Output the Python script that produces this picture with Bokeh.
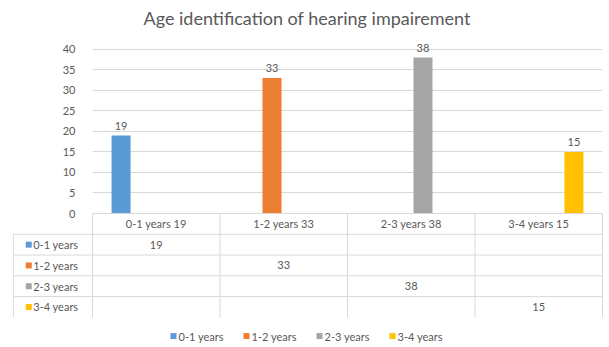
from bokeh.plotting import figure
from bokeh.models import Range1d, ColumnDataSource, FixedTicker, Title
from bokeh.transform import dodge
from bokeh.embed import file_html
from bokeh.resources import INLINE
from bokeh.core.properties import value

# ---- data -------------------------------------------------------------
title_text = "Age identification of hearing impairement"
categories = ["0-1 years 19", "1-2 years 33", "2-3 years 38", "3-4 years 15"]
series_names = ["0-1 years", "1-2 years", "2-3 years", "3-4 years"]
counts_0_1 = [19, None, None, None]
counts_1_2 = [None, 33, None, None]
counts_2_3 = [None, None, 38, None]
counts_3_4 = [None, None, None, 15]
y_ticks = [0, 5, 10, 15, 20, 25, 30, 35, 40]

series_values = [counts_0_1, counts_1_2, counts_2_3, counts_3_4]
colors = ["#5B9BD5", "#ED7D31", "#A5A5A5", "#FFC000"]

FONT = "Lato"
TEXT = "#595959"
LINE = "#D9D9D9"
FS = "11px"

n_cat = len(categories)
n_ser = len(series_names)
PX = 127.5        # pixels per category column
SLOT = 0.184      # distance between series slots inside one category (category = 1)
BAR_W = 0.149     # bar width in category units
KEY_PX = 6        # side of a colour key square, pixels

# ---- clustered column chart ------------------------------------------
# plot frame: x 92..602 (one unit per category), y 30..214 (0 at y=213, 40 at y=47)
p = figure(width=609, height=347, x_range=Range1d(0, n_cat),
           y_range=Range1d(-0.24, 44.1),
           output_backend="svg", toolbar_location=None, x_axis_location=None,
           min_border_left=92, min_border_right=7, min_border_top=30,
           min_border_bottom=133, background_fill_color="white",
           border_fill_color="white")
p.outline_line_color = None
p.add_layout(Title(text=title_text, align="left", offset=51, text_font_size="18px",
                   text_color=TEXT, text_font_style="normal", text_font=FONT,
                   standoff=8), "above")

for si, (name, vals, col) in enumerate(zip(series_names, series_values, colors)):
    xs = [ci + 0.5 for ci, v in enumerate(vals) if v is not None]
    tops = [v for v in vals if v is not None]
    src = ColumnDataSource(dict(x=xs, top=tops, label=[str(v) for v in tops]))
    shift = (si - (n_ser - 1) / 2) * SLOT
    p.vbar(x=dodge("x", shift, range=p.x_range), top="top", width=BAR_W,
           source=src, fill_color=col, line_color=None)
    p.text(x=dodge("x", shift, range=p.x_range), y="top", text="label", source=src,
           text_align="center", text_baseline="bottom", y_offset=-6,
           text_font=value(FONT), text_font_size=FS, text_color=TEXT)

p.yaxis.ticker = FixedTicker(ticks=y_ticks)
p.ygrid.ticker = FixedTicker(ticks=y_ticks)
p.ygrid.grid_line_color = LINE
p.xgrid.grid_line_color = None
p.yaxis.axis_line_color = None
p.yaxis.major_tick_line_color = None
p.yaxis.minor_tick_line_color = None
p.yaxis.major_label_standoff = 11
p.yaxis.major_label_text_color = TEXT
p.yaxis.major_label_text_font = FONT
p.yaxis.major_label_text_font_size = FS

# ---- data table under the chart --------------------------------------
# rows are 21 px tall, counted downwards from the category axis
key_col = -0.62          # left edge of the series-name column

p.extra_y_ranges = {"tbl": Range1d(1 / 21, -183 / 21)}
tbl = dict(y_range_name="tbl", level="overlay")


def key_square(x, y, col):
    """Small colour key drawn as a thick butt-capped segment."""
    half = KEY_PX / 2 / PX
    p.segment(x0=[x - half], y0=[y], x1=[x + half], y1=[y],
              line_color=col, line_width=KEY_PX, line_cap="butt", **tbl)


# horizontal rules
hx0 = [0] + [key_col] * n_ser
hx1 = [n_cat] * (n_ser + 1)
hy = list(range(n_ser + 1))
p.segment(x0=hx0, y0=hy, x1=hx1, y1=hy, line_color=LINE, line_width=1, **tbl)
# vertical rules
vx = list(range(n_cat + 1)) + [key_col]
vy0 = [0] * (n_cat + 1) + [1]
vy1 = [n_ser + 1] * (n_cat + 2)
p.segment(x0=vx, y0=vy0, x1=vx, y1=vy1, line_color=LINE, line_width=1, **tbl)

# header row with category names
p.text(x=[i + 0.5 for i in range(n_cat)], y=[0.5] * n_cat, text=categories,
       text_align="center", text_baseline="middle", text_font=value(FONT),
       text_font_size=FS, text_color=TEXT, **tbl)

# value cells
cx, cy, ct = [], [], []
for si, vals in enumerate(series_values):
    for ci, v in enumerate(vals):
        if v is not None:
            cx.append(ci + 0.5)
            cy.append(si + 1.5)
            ct.append(str(v))
p.text(x=cx, y=cy, text=ct, text_align="center", text_baseline="middle",
       text_font=value(FONT), text_font_size=FS, text_color=TEXT, **tbl)

# series keys + names in the left column
for si, col in enumerate(colors):
    key_square(key_col + 0.12, si + 1.5, col)
p.text(x=[key_col + 0.155] * n_ser, y=[i + 1.5 for i in range(n_ser)],
       text=series_names, text_align="left", text_baseline="middle",
       text_font=value(FONT), text_font_size=FS, text_color=TEXT, **tbl)

# ---- legend row under the table --------------------------------------
leg_x0 = 81 / PX         # first key, measured from the plot's left edge
leg_step = 73 / PX       # distance between legend entries
leg_y = 5.9
for si, col in enumerate(colors):
    key_square(leg_x0 + si * leg_step, leg_y, col)
p.text(x=[leg_x0 + si * leg_step + 5 / PX for si in range(n_ser)],
       y=[leg_y] * n_ser, text=series_names, text_align="left",
       text_baseline="middle", text_font=value(FONT), text_font_size=FS,
       text_color=TEXT, **tbl)

open("out.html", "w").write(file_html(p, INLINE))
